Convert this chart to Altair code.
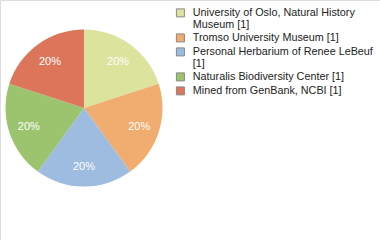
import altair as alt
import pandas as pd

categories = [
    "University of Oslo, Natural History\nMuseum [1]",
    "Tromso University Museum [1]",
    "Personal Herbarium of Renee LeBeuf\n[1]",
    "Naturalis Biodiversity Center [1]",
    "Mined from GenBank, NCBI [1]",
]
values = [1, 1, 1, 1, 1]
pct_labels = ["20%", "20%", "20%", "20%", "20%"]
colors = ["#dce39d", "#f0ad6f", "#9ebbe0", "#9cc46f", "#dc755a"]

df = pd.DataFrame({
    "cat": categories,
    "val": values,
    "lbl": pct_labels,
    "idx": list(range(len(categories))),
})

FONT = "Liberation Sans"

base = alt.Chart(df).encode(
    theta=alt.Theta("val:Q", stack=True),
    order=alt.Order("idx:Q"),
)

arcs = base.mark_arc(stroke=None).encode(
    x=alt.value(84),
    y=alt.value(108),
    radius=alt.value(78.5),
    color=alt.Color(
        "cat:N",
        sort=categories,
        scale=alt.Scale(domain=categories, range=colors),
        legend=alt.Legend(
            title=None,
            orient="none",
            legendX=175,
            legendY=7.5,
            symbolType="square",
            symbolSize=64,
            symbolStrokeColor="#888888",
            symbolStrokeWidth=1,
            labelFont=FONT,
            labelFontSize=10.8,
            labelColor="#222222",
            labelOffset=7,
            labelLimit=300,
            rowPadding=1,
            padding=0,
            labelExpr="split(datum.label, '\\n')",
        ),
    ),
)

texts = base.mark_text(
    font=FONT, fontSize=11, color="white", align="center", baseline="middle"
).encode(
    x=alt.value(84),
    y=alt.value(109),
    radius=alt.value(58),
    text="lbl:N",
)

chart = (
    alt.layer(arcs, texts)
    .properties(width=380, height=240, autosize=alt.AutoSizeParams(type="none"), padding=0)
    .configure_view(stroke=None)
    .configure(background="white", style={"guide-label": {"lineHeight": 12}})
)

chart.save("out.html", embed_options={"renderer": "svg", "actions": False})
